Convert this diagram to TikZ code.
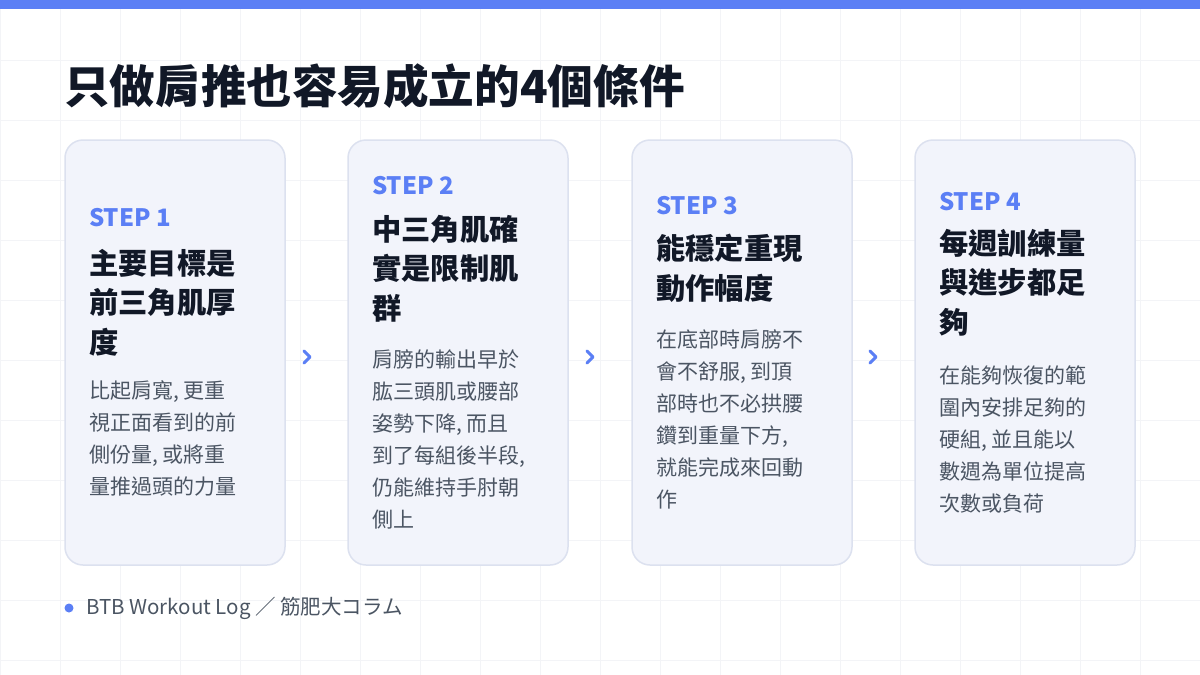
\documentclass[tikz,border=0pt]{standalone}
\usepackage{fontspec}
\setmainfont{Noto Sans CJK TC}
\newfontfamily\cjkb{Noto Sans CJK TC Black}
\definecolor{accent}{HTML}{5B7FF5}
\definecolor{ink}{HTML}{111827}
\definecolor{body}{HTML}{4B5563}
\definecolor{cardfill}{HTML}{F2F4FB}
\definecolor{cardline}{HTML}{DCE1EF}
\definecolor{gridc}{HTML}{F3F4F7}
\tikzset{
 card/.style={draw=cardline,line width=1.5pt,fill=cardfill,rounded corners=18pt},
 steplbl/.style={anchor=west,inner sep=0,text=accent,font=\cjkb\fontsize{24}{28}\selectfont},
 ttl/.style={anchor=north west,inner sep=0,align=left,text=ink,font=\cjkb\fontsize{29.3}{39.5}\selectfont},
 bd/.style={anchor=north west,inner sep=0,align=left,text=body,font=\fontsize{21}{32}\selectfont},
 chev/.style={draw=accent,line width=3pt,line cap=round,line join=round}
}
\begin{document}
\begin{tikzpicture}[x=1pt,y=-1pt]
\useasboundingbox (0,0) rectangle (1200,675);
\fill[white] (0,0) rectangle (1200,675);
\foreach \i in {0,60,...,1200} \draw[gridc] (\i,0) -- (\i,675);
\foreach \j in {0,60,...,660} \draw[gridc] (0,\j) -- (1200,\j);
\fill[accent] (0,0) rectangle (1200,9);
\node[anchor=west,inner sep=0,text=ink,font=\cjkb\fontsize{45.6}{50}\selectfont] (title) at (64,86) {只做肩推也容易成立的4個條件};
% cards
\draw[card] (65,140) rectangle (285,565);
\draw[card] (348,140) rectangle (568,565);
\draw[card] (632,140) rectangle (852,565);
\draw[card] (915,140) rectangle (1135,565);
% card 1
\node[steplbl] (s1) at (89,218) {STEP 1};
\node[ttl] (t1) at (89,249) {主要目標是\\前三角肌厚\\度};
\node[bd] (b1) at (89,381) {比起肩寬, 更重\\視正面看到的前\\側份量, 或將重\\量推過頭的力量};
% card 2
\node[steplbl] (s2) at (372,186) {STEP 2};
\node[ttl] (t2) at (372,215) {中三角肌確\\實是限制肌\\群};
\node[bd] (b2) at (372,349) {肩膀的輸出早於\\肱三頭肌或腰部\\姿勢下降, 而且\\到了每組後半段,\\仍能維持手肘朝\\側上};
% card 3
\node[steplbl] (s3) at (656,206) {STEP 3};
\node[ttl] (t3) at (656,234) {能穩定重現\\動作幅度};
\node[bd] (b3) at (656,329) {在底部時肩膀不\\會不舒服, 到頂\\部時也不必拱腰\\鑽到重量下方,\\就能完成來回動\\作};
% card 4
\node[steplbl] (s4) at (939,202) {STEP 4};
\node[ttl] (t4) at (939,229) {每週訓練量\\與進步都足\\夠};
\node[bd] (b4) at (939,365) {在能夠恢復的範\\圍內安排足夠的\\硬組, 並且能以\\數週為單位提高\\次數或負荷};
% chevrons
\foreach \cx in {307,590,873} \draw[chev] (\cx-3,351) -- (\cx+3,357) -- (\cx-3,363);
% footer
\fill[accent] (69,608) circle (4.5);
\node[anchor=west,inner sep=0,text=body,font=\fontsize{20.5}{24}\selectfont] (foot) at (86,608) {BTB Workout Log ／ 筋肥大コラム};
\end{tikzpicture}
\end{document}
